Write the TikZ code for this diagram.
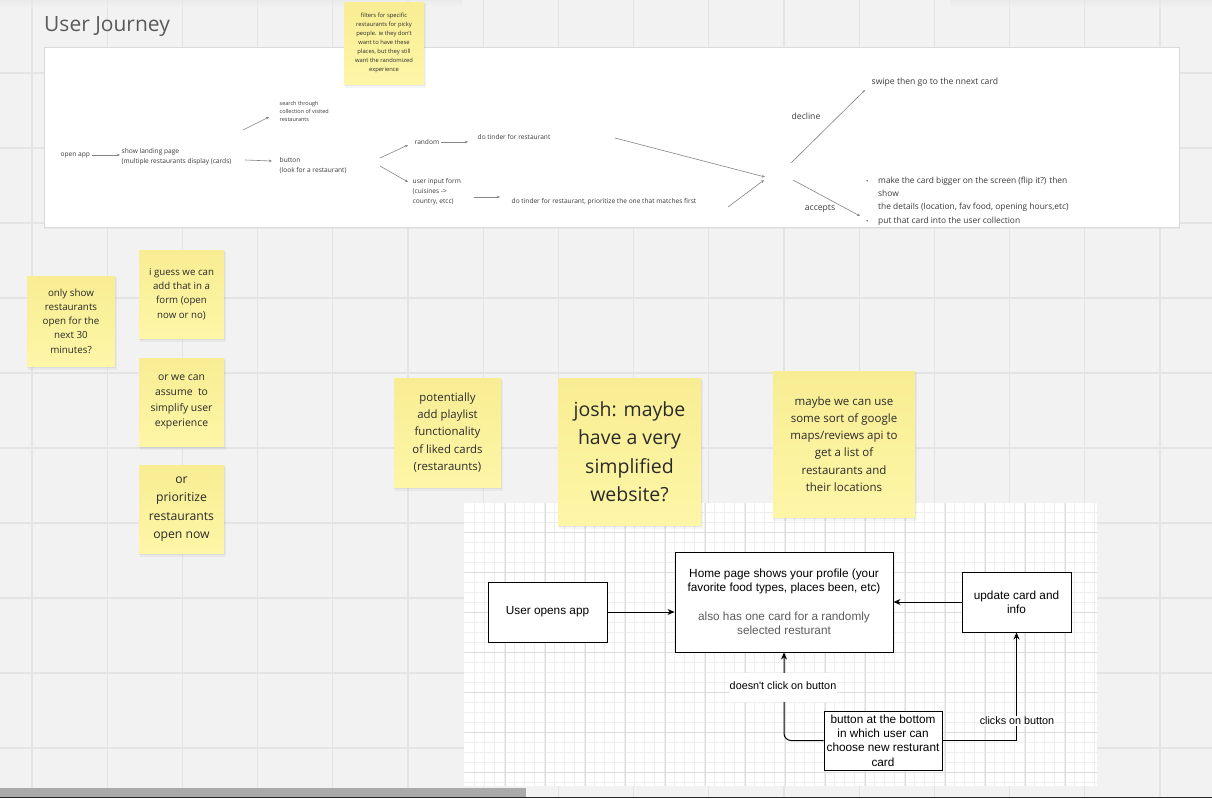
\documentclass[tikz,border=0pt]{standalone}
\usepackage{fontspec}
\setmainfont{Open Sans}
\newfontfamily\helv{Liberation Sans}
\usetikzlibrary{arrows.meta}
\definecolor{canvas}{HTML}{F2F2F2}
\definecolor{gridc}{HTML}{E4E4E4}
\definecolor{stickytop}{HTML}{F8ED93}
\definecolor{stickybot}{HTML}{FEF6A7}
\definecolor{inktext}{HTML}{2A2A2A}
\definecolor{paneltext}{HTML}{3A3A3A}
\definecolor{arrowc}{HTML}{858585}
\definecolor{titlec}{HTML}{5A5A5A}
\definecolor{minorg}{HTML}{EEEEEE}
\definecolor{majorg}{HTML}{DDDDDD}
\definecolor{subtext}{HTML}{5C5C5C}
\definecolor{panelborder}{HTML}{DADADA}
\definecolor{scrollc}{HTML}{AAAAAA}

\newcommand\stickynote[8]{%
  \fill[black,opacity=0.04] (#2+1,#3+2) rectangle (#4+2,#5+4);
  \fill[black,opacity=0.05] (#2,#3+1) rectangle (#4+1,#5+2);
  \shade[top color=stickytop,bottom color=stickybot] (#2,#3) rectangle (#4,#5);
  \node[stickytext,font=\fontsize{#6}{#7}\selectfont] (#1) at ({(#2+#4)/2},{(#3+#5)/2}) {#8};
}

\begin{document}
\begin{tikzpicture}[x=1pt,y=-1pt,
  ptext/.style={font=\fontsize{6.6}{10}\selectfont, text=paneltext, align=left, inner sep=1.5pt},
  parrow/.style={draw=arrowc, line width=0.6pt, -{Stealth[length=3.2pt,width=2.6pt]}},
  stickytext/.style={align=center, text=inktext, inner sep=0pt},
  dbox/.style={draw=black, line width=1pt, fill=white, align=center, text=black, font=\helv\fontsize{11.8}{14.3}\selectfont, inner sep=0pt},
  dconn/.style={draw=black, line width=1pt, -{Stealth[length=7pt,width=6pt]}},
  dlabel/.style={fill=white, text=black, font=\helv\fontsize{10.8}{13}\selectfont, inner sep=1pt},
]
\useasboundingbox (0,0) rectangle (1212,798);
% canvas
\fill[canvas] (0,0) rectangle (1212,798);
\foreach \i in {0,...,15} {\draw[gridc, line width=1.2pt] ({32+75.2*\i},0) -- ({32+75.2*\i},798);}
\foreach \j in {0,...,9} {\draw[gridc, line width=1.2pt] (0,{73+75*\j}) -- (1212,{73+75*\j});}
\shade[top color=black!10, bottom color=canvas, opacity=0.6] (0,0) rectangle (462,6);
\shade[top color=black!10, bottom color=canvas, opacity=0.6] (950,0) rectangle (1212,6);

% title
\node[anchor=west, font=\fontsize{21}{25}\selectfont, text=titlec, inner sep=0pt] (title) at (44,27) {User Journey};

% panel
\fill[black,opacity=0.04] (44,48) rectangle (1180,229);
\draw[panelborder, fill=white, line width=0.8pt] (44,47) rectangle (1179,227);

% panel texts
\node[ptext, anchor=west] (openapp) at (59,155) {open app};
\node[ptext, anchor=west] (landing) at (120,157) {show landing page\\(multiple restaurants display (cards)};
\node[ptext, anchor=west, font=\fontsize{5.5}{8}\selectfont] (search) at (278,111) {search through\\collection of visited\\restaurants};
\node[ptext, anchor=west] (button) at (278,166) {button\\(look for a restaurant)};
\node[ptext, anchor=west] (random) at (413,142) {random};
\node[ptext, anchor=west] (tinder1) at (476,137) {do tinder for restaurant};
\node[ptext, anchor=west] (form) at (411,192) {user input form\\(cuisines ->\\country, etcc)};
\node[ptext, anchor=west] (tinder2) at (510,202) {do tinder for restaurant, prioritize the one that matches first};
\node[ptext, font=\fontsize{8.6}{11}\selectfont] (decline) at (806,116) {decline};
\node[ptext, anchor=west, font=\fontsize{8.6}{11}\selectfont] (swipe) at (870,82) {swipe then go to the nnext card};
\node[ptext, font=\fontsize{8.6}{11}\selectfont] (accepts) at (820,209) {accepts};
\node[ptext, anchor=west, inner sep=0pt, font=\fontsize{8.4}{13.3}\selectfont] (details) at (866,201)
 {\makebox[12pt][l]{\fontsize{6}{6}\selectfont•}make the card bigger on the screen (flip it?) then\\
  \hspace*{12pt}show\\
  \hspace*{12pt}the details (location, fav food, opening hours,etc)\\
  \makebox[12pt][l]{\fontsize{6}{6}\selectfont•}put that card into the user collection};

% panel arrows
\coordinate (a1s) at (245,160); \coordinate (a1e) at (272,161);
\coordinate (a2s) at (243,130); \coordinate (a2e) at (269,117);
\coordinate (a3s) at (380,158); \coordinate (a3e) at (408,145);
\coordinate (a4s) at (380,166); \coordinate (a4e) at (408,182);
\coordinate (a5e) at (468,142);
\coordinate (a6s) at (474,197); \coordinate (a6e) at (500,197);
\coordinate (a7s) at (615,138); \coordinate (a7e) at (765,177);
\coordinate (a8s) at (728,207); \coordinate (a8e) at (764,180);
\coordinate (a9s) at (791,163); \coordinate (a9e) at (865,90);
\coordinate (a10s) at (793,180); \coordinate (a10e) at (860,216);
\draw[parrow] (openapp.east) -- (openapp.east -| landing.west);
\draw[parrow] (a1s) -- (a1e);
\draw[parrow] (a2s) -- (a2e);
\draw[parrow] (a3s) -- (a3e);
\draw[parrow] (a4s) -- (a4e);
\draw[parrow] (random.east) -- (a5e);
\draw[parrow] (a6s) -- (a6e);
\draw[parrow] (a7s) -- (a7e);
\draw[parrow] (a8s) -- (a8e);
\draw[parrow] (a9s) -- (a9e);
\draw[parrow] (a10s) -- (a10e);

% sticky notes
\stickynote{filters}{344}{2}{424}{84}{5.8}{9}{filters for specific\\restaurants for picky\\people. ie they don't\\want to have these\\places, but they still\\want the randomized\\experience}
\stickynote{onlyshow}{27}{276}{115}{366}{9.8}{14.3}{only show\\restaurants\\open for the\\next 30\\minutes?}
\stickynote{iguess}{139}{250}{224}{338}{9.7}{14.3}{i guess we can\\add that in a\\form (open\\now or no)}
\stickynote{assume}{139}{358}{224}{446}{10.4}{15.5}{or we can\\assume\ \ to\\simplify user\\experience}
\stickynote{prioritize}{139}{465}{224}{553}{12.2}{18.5}{or\\prioritize\\restaurants\\open now}
\stickynote{playlist}{394}{378}{501}{487}{11.4}{17.3}{potentially\\add playlist\\functionality\\of liked cards\\(restaraunts)}

% embedded diagram
\fill[white] (464,503) rectangle (1097,786);
\foreach \x in {474,484,...,1094} {\draw[minorg, line width=0.8pt] (\x,503) -- (\x,786);}
\foreach \y in {512,522,...,782} {\draw[minorg, line width=0.8pt] (464,\y) -- (1097,\y);}
\foreach \x in {505,545,...,1085} {\draw[majorg, line width=0.9pt] (\x,503) -- (\x,786);}
\foreach \y in {532,572,...,772} {\draw[majorg, line width=0.9pt] (464,\y) -- (1097,\y);}

\node[dbox, minimum width=119pt, minimum height=60pt] (userapp) at (547.5,612) {User opens app};
\node[dbox, minimum width=218pt, minimum height=100pt] (home) at (784,602)
 {Home page shows your profile (your\\favorite food types, places been, etc)\\[14.3pt]
  {\color{subtext}also has one card for a randomly}\\{\color{subtext}selected resturant}};
\node[dbox, minimum width=109pt, minimum height=60pt] (update) at (1016.5,602) {update card and\\info};
\node[dbox, minimum width=118pt, minimum height=59pt] (btn) at (883,740.5) {button at the bottom\\in which user can\\choose new resturant\\card};

\draw[dconn] (userapp.east) -- (userapp.east -| home.west);
\draw[dconn] (update.west) -- (update.west -| home.east);
\draw[dconn, rounded corners=7pt] (btn.west) -| (home.south);
\draw[dconn] (btn.east) -| (update.south);
\node[dlabel, minimum height=29pt] (lbl1) at (783,687.5) {\raisebox{3.5pt}{doesn't click on button}};
\node[dlabel] (lbl2) at (1017,721) {clicks on button};

% stickies over the diagram
\stickynote{josh}{558}{378}{701}{525}{19.5}{28.5}{josh: maybe\\have a very\\simplified\\website?}
\stickynote{maps}{773}{371}{915}{517}{11.5}{17.3}{maybe we can use\\some sort of google\\maps/reviews api to\\get a list of\\restaurants and\\their locations}

% scroll bar
\fill[scrollc] (0,788) rectangle (526,797);
\fill[black!85] (0,797) rectangle (1212,798);
\end{tikzpicture}
\end{document}
